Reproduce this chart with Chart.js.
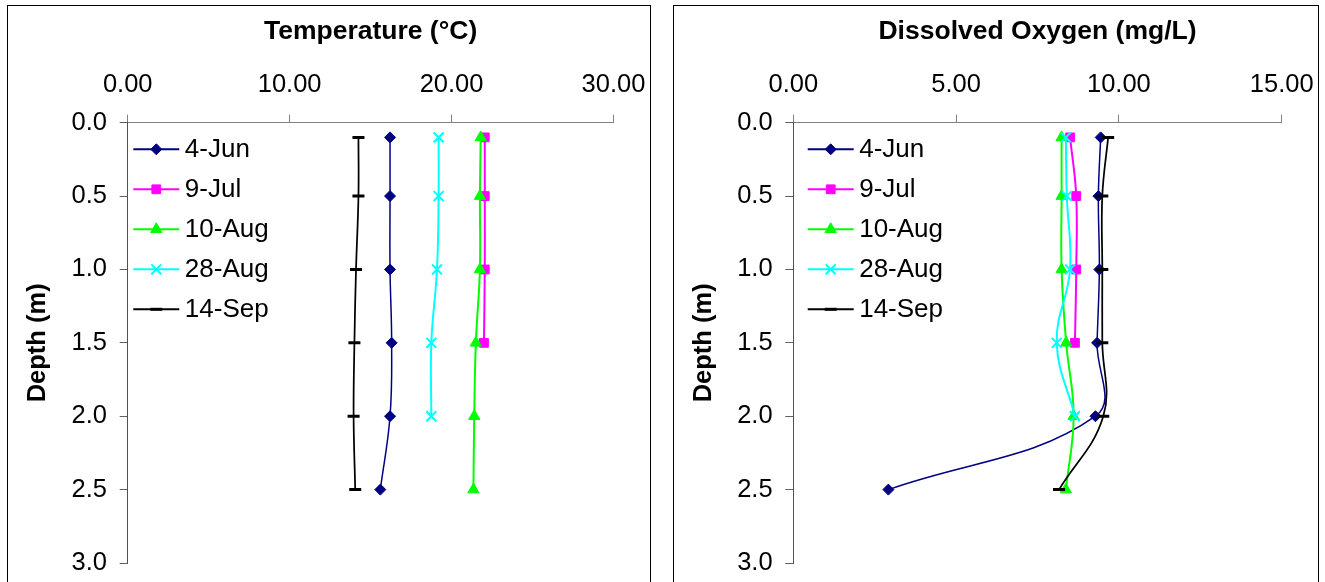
<!DOCTYPE html>
<html><head><meta charset="utf-8">
<script src="https://cdn.jsdelivr.net/npm/chart.js@4/dist/chart.umd.min.js"></script>
<style>
html,body{margin:0;padding:0;background:#fff;width:1325px;height:582px;overflow:hidden;}
.panel{position:absolute;top:5px;height:600px;border:1px solid #000;box-sizing:border-box;}
.wrap{position:absolute;top:6px;}
</style></head><body>
<div class="panel" style="left:7px;width:644px"></div>
<div class="panel" style="left:673px;width:646px"></div>
<div class="wrap" style="left:8px;width:642px;height:576px"><canvas id="tempChart" width="642" height="576"></canvas></div>
<div class="wrap" style="left:674px;width:643px;height:576px"><canvas id="doChart" width="643" height="576"></canvas></div>
<script>
// ---- data ----
const depths = [0.1, 0.5, 1.0, 1.5, 2.0, 2.5];
const seriesLabels = ['4-Jun', '9-Jul', '10-Aug', '28-Aug', '14-Sep'];

const temp4Jun  = [16.2, 16.2, 16.2, 16.3, 16.2, 15.6];
const temp9Jul  = [22.05, 22.05, 22.05, 22.0];
const temp10Aug = [21.8, 21.75, 21.75, 21.5, 21.4, 21.35];
const temp28Aug = [19.2, 19.2, 19.1, 18.75, 18.75];
const temp14Sep = [14.25, 14.25, 14.1, 14.0, 13.95, 14.05];

const do4Jun  = [9.44, 9.37, 9.40, 9.33, 9.28, 2.92];
const do9Jul  = [8.50, 8.69, 8.69, 8.65];
const do10Aug = [8.24, 8.24, 8.24, 8.38, 8.61, 8.37];
const do28Aug = [8.37, 8.40, 8.50, 8.09, 8.65];
const do14Sep = [9.67, 9.49, 9.49, 9.49, 9.52, 8.16];

const tempTitle = 'Temperature (°C)';
const doTitle = 'Dissolved Oxygen (mg/L)';
const depthTitle = 'Depth (m)';
const tempMax = 30, tempStep = 10;
const doMax = 15, doStep = 5;
const depthMax = 3, depthStep = 0.5;

// ---- styles ----
const seriesStyles = [
  {color:'#000080', pointStyle:'rectRot',  radius:5.5, pbw:1, lw:1.5},
  {color:'#FF00FF', pointStyle:'rect',     radius:6.2, pbw:1, lw:2},
  {color:'#00FF00', pointStyle:'triangle', radius:6.5, pbw:1, lw:2},
  {color:'#00FFFF', pointStyle:'crossRot', radius:7,   pbw:2, lw:2},
  {color:'#000000', pointStyle:'line',     radius:6,   pbw:3, lw:1.75}
];

const FONT = "'Liberation Sans', Arial, Helvetica, sans-serif";
Chart.defaults.font.family = FONT;
Chart.defaults.color = '#000';

function makeDatasets(seriesValues) {
  return seriesValues.map((vals, i) => {
    const s = seriesStyles[i];
    return {
      label: seriesLabels[i],
      data: vals.map((v, j) => ({x: v, y: depths[j]})),
      showLine: true,
      tension: 0.4,
      borderColor: s.color,
      backgroundColor: s.color,
      borderWidth: s.lw,
      pointStyle: s.pointStyle,
      pointRadius: s.radius,
      pointHoverRadius: s.radius,
      pointBorderWidth: s.pbw,
      pointBackgroundColor: s.color,
      pointBorderColor: s.color,
      order: seriesValues.length - i
    };
  });
}

function drawMarker(ctx, style, x, y) {
  if (Chart.helpers && Chart.helpers.drawPoint) {
    Chart.helpers.drawPoint(ctx, {pointStyle: style.pointStyle, rotation: 0, radius: style.radius, borderWidth: style.pbw}, x, y);
  }
}

const insideLegend = {
  id: 'insideLegend',
  afterDatasetsDraw(chart, args, opts) {
    const ctx = chart.ctx, a = chart.chartArea;
    chart.data.datasets.forEach((ds, i) => {
      const s = seriesStyles[i];
      const y = a.top + opts.top + i * opts.spacing;
      const x0 = a.left + opts.left;
      ctx.save();
      ctx.strokeStyle = s.color;
      ctx.lineWidth = 2;
      ctx.beginPath();
      ctx.moveTo(x0, y);
      ctx.lineTo(x0 + opts.lineLength, y);
      ctx.stroke();
      ctx.fillStyle = s.color;
      ctx.strokeStyle = s.color;
      ctx.lineWidth = s.pbw;
      drawMarker(ctx, s, x0 + opts.lineLength / 2, y);
      ctx.fillStyle = '#000';
      ctx.font = '26px ' + FONT;
      ctx.textAlign = 'left';
      ctx.textBaseline = 'middle';
      ctx.fillText(ds.label, x0 + opts.textOffset, y + 1);
      ctx.restore();
    });
  }
};

function clearPad(s) {
  s.paddingLeft = 0; s.paddingRight = 0; s.paddingTop = 0; s.paddingBottom = 0;
}

function makeChart(id, seriesValues, title, xMax, xStep, geom) {
  return new Chart(document.getElementById(id), {
    type: 'scatter',
    data: {datasets: makeDatasets(seriesValues)},
    plugins: [insideLegend],
    options: {
      responsive: false,
      animation: false,
      events: [],
      layout: {autoPadding: false, padding: {left: 0, top: 0, right: geom.padRight, bottom: 19}},
      plugins: {
        legend: {display: false},
        tooltip: {enabled: false},
        insideLegend: {left: geom.legLeft, lineLength: 46, textOffset: 51.5, top: 26.6, spacing: 40}
      },
      scales: {
        x: {
          type: 'linear',
          position: 'top',
          min: 0, max: xMax,
          afterFit(s) { s.height = 116.7; clearPad(s); },
          ticks: {stepSize: xStep, padding: 14.4, font: {size: 25.5}, color: '#000',
                  callback: v => Number(v).toFixed(2), maxRotation: 0, autoSkip: false},
          grid: {display: true, drawOnChartArea: false, drawTicks: true, tickLength: 8, color: '#808080', lineWidth: 1},
          border: {display: true, color: '#808080', width: 1},
          title: {display: true, text: title, font: {size: 26.5, weight: 'bold'}, color: '#000', padding: {top: 9.8, bottom: 0}}
        },
        y: {
          type: 'linear',
          position: 'left',
          reverse: true,
          min: 0, max: depthMax,
          afterFit(s) { s.width = geom.yWidth; clearPad(s); },
          ticks: {stepSize: depthStep, padding: 12.7, font: {size: 25.5}, color: '#000',
                  callback: v => Number(v).toFixed(1), autoSkip: false},
          grid: {display: true, drawOnChartArea: false, drawTicks: true, tickLength: 8, color: '#606060', lineWidth: 1},
          border: {display: true, color: '#505050', width: 1},
          title: {display: true, text: depthTitle, font: {size: 25.5, weight: 'bold'}, color: '#000', padding: {top: 14.2, bottom: 0}}
        }
      }
    }
  });
}

makeChart('tempChart', [temp4Jun, temp9Jul, temp10Aug, temp28Aug, temp14Sep], tempTitle, tempMax, tempStep,
  {padRight: 36.5, yWidth: 119.7, legLeft: 5.6});
makeChart('doChart', [do4Jun, do9Jul, do10Aug, do28Aug, do14Sep], doTitle, doMax, doStep,
  {padRight: 35.3, yWidth: 119.3, legLeft: 14.4});
</script>
</body></html>
